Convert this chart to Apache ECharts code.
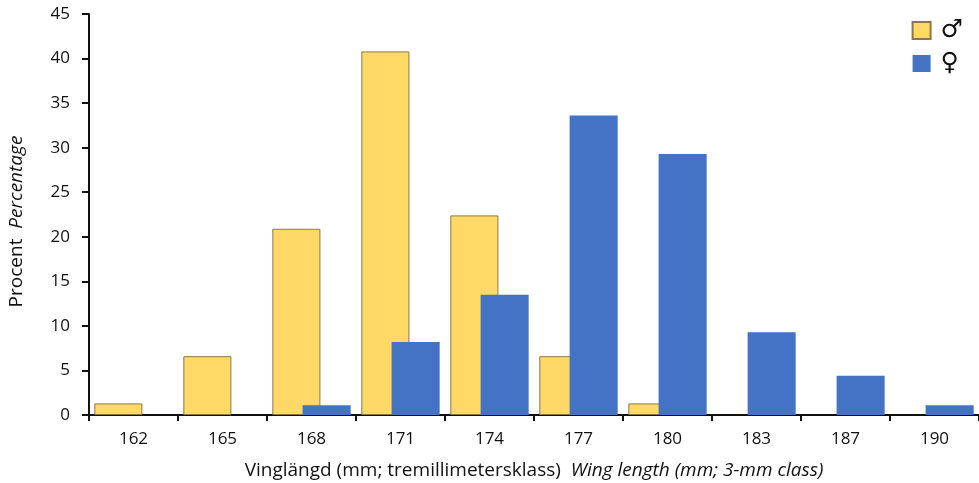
<!DOCTYPE html>
<html><head><meta charset="utf-8">
<script src="https://cdn.jsdelivr.net/npm/echarts@6/dist/echarts.min.js"></script>
<style>html,body{margin:0;padding:0;background:#fff}#c{width:979px;height:483px}</style>
</head><body><div id="c"></div>
<script>
var categories = ['162','165','168','171','174','177','180','183','187','190'];
var males   = [1.3, 6.6, 20.9, 40.8, 22.4, 6.6, 1.3, null, null, null];
var females = [null, null, 1.1, 8.2, 13.5, 33.6, 29.3, 9.3, 4.4, 1.1];
var yTicks = {min: 0, max: 45, interval: 5};

var font = '"Open Sans", "Noto Sans", sans-serif';
var chart = echarts.init(document.getElementById('c'), null, {renderer: 'canvas'});
chart.setOption({
  animation: false,
  textStyle: {fontFamily: font, color: '#111'},
  grid: {left: 89, right: 0, top: 14, bottom: 68, containLabel: false, outerBoundsMode: 'none'},
  legend: {
    orient: 'vertical', right: 11, top: 13, itemWidth: 18, itemHeight: 17, itemGap: 8,
    icon: 'rect',
    textStyle: {fontSize: 25, color: '#111', fontFamily: '"DejaVu Sans", sans-serif', padding: [0, 0, 0, 5]},
    data: ['♂', '♀']
  },
  xAxis: {
    type: 'category', data: categories,
    axisLine: {lineStyle: {color: '#111', width: 2}},
    axisTick: {show: true, length: 6, lineStyle: {color: '#111', width: 2}},
    axisLabel: {fontSize: 17, color: '#111', margin: 16, fontFamily: font},
    name: '{a|Vinglängd (mm; tremillimetersklass)  }{b|Wing length (mm; 3-mm class)}',
    nameLocation: 'middle', nameGap: 46,
    nameTextStyle: {rich: {
      a: {fontSize: 19, color: '#111', fontFamily: font},
      b: {fontSize: 19, color: '#111', fontStyle: 'italic', fontFamily: font}
    }}
  },
  yAxis: {
    type: 'value', min: yTicks.min, max: yTicks.max, interval: yTicks.interval,
    splitLine: {show: false},
    axisLine: {show: true, lineStyle: {color: '#111', width: 2}},
    axisTick: {show: true, length: 7, lineStyle: {color: '#111', width: 2}},
    axisLabel: {fontSize: 17, color: '#111', margin: 19, fontFamily: font},
    name: '{a|Procent  }{b|Percentage}',
    nameLocation: 'middle', nameGap: 63, nameRotate: 90,
    nameTextStyle: {padding: [0, 14, 0, 0], rich: {
      a: {fontSize: 19, color: '#111', fontFamily: font},
      b: {fontSize: 19, color: '#111', fontStyle: 'italic', fontFamily: font}
    }}
  },
  series: [
    {name: '♂', type: 'bar', data: males, barCategoryGap: '12%', barGap: '-37%',
     itemStyle: {color: '#FFD966', borderColor: '#8a7848', borderWidth: 1}},
    {name: '♀', type: 'bar', data: females, barCategoryGap: '12%', barGap: '-37%',
     itemStyle: {color: '#4472C4'}}
  ]
});
</script></body></html>
